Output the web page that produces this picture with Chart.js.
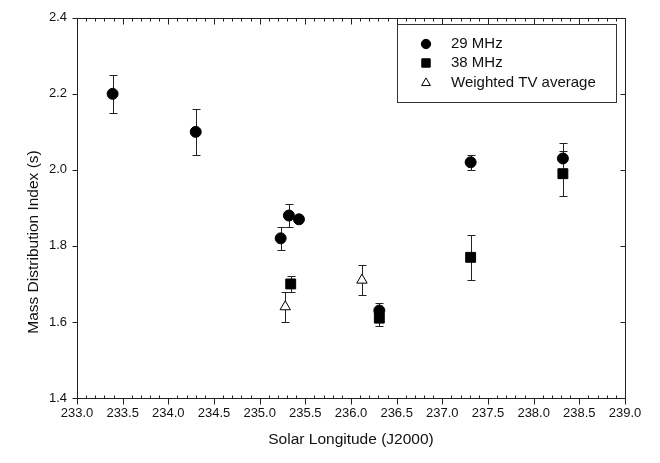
<!DOCTYPE html>
<html>
<head>
<meta charset="utf-8">
<script src="https://cdn.jsdelivr.net/npm/chart.js@4.4.1/dist/chart.umd.min.js"></script>
<style>
  body { margin: 0; background: #fff; }
  #wrap { width: 660px; height: 463px; position: relative; }
</style>
</head>
<body>
<div id="wrap"><canvas id="myChart"></canvas></div>
<script>
// 29 MHz
let x29 = [233.39, 234.30, 235.23, 235.32, 235.43, 236.31, 237.31, 238.32];
let y29 = [2.20, 2.10, 1.82, 1.88, 1.87, 1.63, 2.02, 2.03];
let lo29 = [2.15, 2.04, 1.79, 1.85, null, 1.61, 2.00, 1.99];
let hi29 = [2.25, 2.16, 1.85, 1.91, null, 1.65, 2.04, 2.07];

// 38 MHz
let x38 = [235.34, 236.31, 237.31, 238.32];
let y38 = [1.70, 1.61, 1.77, 1.99];
let lo38 = [1.68, 1.59, 1.71, 1.93];
let hi38 = [1.72, 1.63, 1.83, 2.05];

// Weighted TV average
let xTV = [235.28, 236.12];
let yTV = [1.64, 1.71];
let loTV = [1.60, 1.67];
let hiTV = [1.68, 1.75];

let xTicks = [233.0, 233.5, 234.0, 234.5, 235.0, 235.5, 236.0, 236.5, 237.0, 237.5, 238.0, 238.5, 239.0];
let yTicks = [1.4, 1.6, 1.8, 2.0, 2.2, 2.4];

const FONT = "'Liberation Sans', Arial, Helvetica, sans-serif";
const INK = "#111";

function pts(xs, ys) {
  return xs.map((x, i) => ({ x: x, y: ys[i] }));
}

// error bars, frame, ticks, titles and legend box
const sigmaPlot = {
  id: "sigmaPlot",
  beforeDatasetsDraw(chart) {
    const ctx = chart.ctx;
    const xs = chart.scales.x, ys = chart.scales.y;
    ctx.save();
    ctx.strokeStyle = "#222";
    ctx.lineWidth = 1;
    chart.data.datasets.forEach(ds => {
      ds.data.forEach((p, j) => {
        if (ds.errLo[j] == null) return;
        let px = Math.round(xs.getPixelForValue(p.x)) + 0.5;
        let yl = Math.round(ys.getPixelForValue(ds.errLo[j])) + 0.5;
        let yh = Math.round(ys.getPixelForValue(ds.errHi[j])) + 0.5;
        ctx.beginPath();
        ctx.moveTo(px, yl); ctx.lineTo(px, yh);
        ctx.moveTo(px - 4, yl); ctx.lineTo(px + 4, yl);
        ctx.moveTo(px - 4, yh); ctx.lineTo(px + 4, yh);
        ctx.stroke();
      });
    });
    ctx.restore();
  },
  afterDraw(chart) {
    const ctx = chart.ctx;
    const a = chart.chartArea;
    const xs = chart.scales.x, ys = chart.scales.y;
    const L = Math.round(a.left) + 0.5, R = Math.round(a.right) + 0.5;
    const T = Math.round(a.top) + 0.5, B = Math.round(a.bottom) + 0.5;
    ctx.save();
    ctx.strokeStyle = "#222";
    ctx.lineWidth = 1;
    ctx.strokeRect(L, T, R - L, B - T);

    ctx.beginPath();
    for (let i = 0; i <= 60; i++) {
      let v = 233 + i / 10;
      let px = Math.round(xs.getPixelForValue(v)) + 0.5;
      if (i % 5 === 0) {
        ctx.moveTo(px, B); ctx.lineTo(px, B + 6);   // bottom major, outward
        ctx.moveTo(px, T); ctx.lineTo(px, T + 6);   // top major, inward
      } else {
        ctx.moveTo(px, B); ctx.lineTo(px, B - 3);
        ctx.moveTo(px, T); ctx.lineTo(px, T + 3);
      }
    }
    yTicks.forEach(v => {
      let py = Math.round(ys.getPixelForValue(v)) + 0.5;
      ctx.moveTo(L, py); ctx.lineTo(L - 5, py);
      ctx.moveTo(R, py); ctx.lineTo(R - 5, py);
    });
    ctx.stroke();

    // axis titles
    ctx.fillStyle = INK;
    ctx.font = "15.5px " + FONT;
    ctx.textAlign = "center";
    ctx.textBaseline = "middle";
    ctx.fillText("Solar Longitude (J2000)", (a.left + a.right) / 2, 440);
    ctx.save();
    ctx.translate(34, 242);
    ctx.rotate(-Math.PI / 2);
    ctx.fillText("Mass Distribution Index (s)", 0, 0);
    ctx.restore();

    // legend
    ctx.strokeStyle = "#333";
    ctx.strokeRect(397.5, 24.5, 219, 78);
    ctx.font = "15px " + FONT;
    ctx.textAlign = "left";
    const rows = [44, 63, 83];
    chart.data.datasets.forEach((ds, i) => {
      let st = {
        pointStyle: ds.pointStyle,
        radius: ds.pointRadius * 0.85,
        borderWidth: 1
      };
      ctx.fillStyle = ds.pointBackgroundColor;
      ctx.strokeStyle = ds.pointBorderColor;
      ctx.lineWidth = 1;
      Chart.helpers.drawPoint(ctx, st, 426, rows[i]);
      ctx.fillStyle = INK;
      ctx.fillText(ds.label, 451, rows[i]);
    });
    ctx.restore();
  }
};

new Chart("myChart", {
  type: "scatter",
  data: {
    datasets: [
      {
        label: "29 MHz",
        data: pts(x29, y29),
        errLo: lo29, errHi: hi29,
        pointStyle: "circle",
        pointRadius: 5.5,
        pointBackgroundColor: "#000",
        pointBorderColor: "#000",
        pointBorderWidth: 1
      },
      {
        label: "38 MHz",
        data: pts(x38, y38),
        errLo: lo38, errHi: hi38,
        pointStyle: "rect",
        pointRadius: 7,
        pointBackgroundColor: "#000",
        pointBorderColor: "#000",
        pointBorderWidth: 1
      },
      {
        label: "Weighted TV average",
        data: pts(xTV, yTV),
        errLo: loTV, errHi: hiTV,
        pointStyle: "triangle",
        pointRadius: 6,
        pointBackgroundColor: "#fff",
        pointBorderColor: "#000",
        pointBorderWidth: 1
      }
    ]
  },
  options: {
    responsive: true,
    maintainAspectRatio: false,
    animation: false,
    layout: { padding: { top: 15, right: 35, left: 0, bottom: 0 } },
    plugins: {
      legend: { display: false },
      tooltip: { enabled: false }
    },
    scales: {
      x: {
        type: "linear",
        min: 233, max: 239,
        afterFit: s => { s.height = 65; },
        afterBuildTicks: s => { s.ticks = xTicks.map(v => ({ value: v })); },
        grid: { display: false, drawTicks: false },
        border: { display: false },
        ticks: {
          padding: 8,
          color: INK,
          font: { family: FONT, size: 13 },
          maxRotation: 0,
          autoSkip: false,
          callback: v => Number(v).toFixed(1)
        }
      },
      y: {
        type: "linear",
        min: 1.4, max: 2.4,
        afterFit: s => { s.width = 77; },
        afterBuildTicks: s => { s.ticks = yTicks.map(v => ({ value: v })); },
        grid: { display: false, drawTicks: false },
        border: { display: false },
        ticks: {
          padding: 10,
          color: INK,
          font: { family: FONT, size: 13 },
          autoSkip: false,
          callback: v => Number(v).toFixed(1)
        }
      }
    }
  },
  plugins: [sigmaPlot]
});
</script>
</body>
</html>
